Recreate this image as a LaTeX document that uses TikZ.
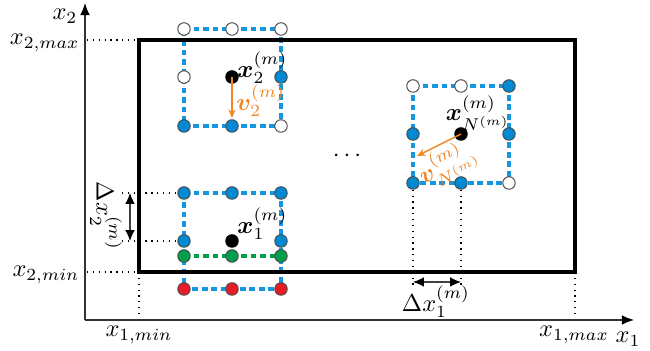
\documentclass[tikz,border=0pt]{standalone}
\usepackage{bm}
\usetikzlibrary{arrows.meta,backgrounds}

\definecolor{gridblue}{RGB}{22,150,222}
\definecolor{dotblue}{RGB}{0,138,212}
\definecolor{dotgreen}{RGB}{0,160,75}
\definecolor{dotred}{RGB}{232,28,36}
\definecolor{vorange}{RGB}{242,133,34}

\begin{document}
\begin{tikzpicture}[x=0.0144cm,y=-0.0144cm,
  gpt/.style={circle,inner sep=0pt,minimum size=0.18cm,draw=black!70,line width=0.4pt},
  wpt/.style={gpt,fill=white},
  bpt/.style={gpt,fill=dotblue},
  gnpt/.style={gpt,fill=dotgreen},
  rpt/.style={gpt,fill=dotred},
  kpt/.style={gpt,fill=black,draw=black},
  gridline/.style={gridblue,line width=1.4pt,dash pattern=on 2.4pt off 1.5pt},
  ghostline/.style={dotgreen,line width=1.4pt,dash pattern=on 2.4pt off 1.5pt},
  guide/.style={black,line width=0.45pt,dash pattern=on 0.5pt off 1.9pt},
  axis/.style={black!80,line width=0.5pt,-{Latex[length=5pt,width=4pt,color=black]}},
  span/.style={black!75,line width=0.5pt,{Latex[length=4.5pt,width=4pt,color=black]}-{Latex[length=4.5pt,width=4pt,color=black]}},
  vel/.style={vorange,line width=0.6pt,-{Stealth[length=3.5pt,width=3pt]}},
  lbl/.style={inner sep=0pt}]

\useasboundingbox (0,0) rectangle (650,351);

% axes
\coordinate (O) at (85,320);
\coordinate (X1end) at (634,320);
\coordinate (X2end) at (85,3);
\draw[axis] (O) -- (X1end);
\draw[axis] (O) -- (X2end);

% domain
\coordinate (Dsw) at (139,272);
\coordinate (Dnw) at (139,40);
\coordinate (Dse) at (575,272);
\coordinate (Dne) at (575,40);
\draw[line width=1.3pt] (Dsw) rectangle (Dne);

% projections of the domain onto the axes
\coordinate (A2max) at (87,40);
\coordinate (A2min) at (87,272);
\coordinate (A1min) at (139,318);
\coordinate (A1max) at (575,318);
\draw[guide] (A2max) -- (Dnw);
\draw[guide] (A2min) -- (Dsw);
\draw[guide] (Dsw) -- (A1min);
\draw[guide] (Dse) -- (A1max);

% axis labels
\node[lbl] (lx2) at (65,16) {$x_2$};
\node[lbl] (lx1) at (628,339) {$x_1$};
\node[lbl,anchor=east] (lx2max) at (80,43) {$x_{2,max}$};
\node[lbl,anchor=east] (lx2min) at (80,275) {$x_{2,min}$};
\node[lbl] (lx1min) at (139,335) {$x_{1,min}$};
\node[lbl] (lx1max) at (574,335) {$x_{1,max}$};

% particle 2 (top left)
\node[wpt] (a11) at (184,29) {};
\node[wpt] (a12) at (232,29) {};
\node[wpt] (a13) at (281,29) {};
\node[wpt] (a21) at (184,77) {};
\node[kpt] (a22) at (232,77) {};
\node[bpt] (a23) at (281,77) {};
\node[bpt] (a31) at (184,126) {};
\node[bpt] (a32) at (232,126) {};
\node[wpt] (a33) at (281,126) {};
\begin{scope}[on background layer]
  \draw[gridline] (a11.center) -- (a13.center) -- (a33.center) -- (a31.center) -- cycle;
\end{scope}
\coordinate (v2end) at (232,118);
\draw[vel] (a22.center) -- (v2end);
\node[lbl,anchor=west] (lxa) at (237,68) {$\bm{x}_2^{(m)}$};
\node[lbl,vorange,anchor=west] (lva) at (236,101) {$\bm{v}_2^{(m)}$};

% particle 1 (bottom left, near the boundary)
\node[bpt] (b11) at (184,193) {};
\node[bpt] (b12) at (232,193) {};
\node[bpt] (b13) at (281,193) {};
\node[bpt] (b21) at (184,241) {};
\node[kpt] (b22) at (232,241) {};
\node[bpt] (b23) at (281,241) {};
\node[gnpt] (g1) at (184,256) {};
\node[gnpt] (g2) at (232,256) {};
\node[gnpt] (g3) at (281,256) {};
\node[rpt] (r1) at (184,289) {};
\node[rpt] (r2) at (232,289) {};
\node[rpt] (r3) at (281,289) {};
\begin{scope}[on background layer]
  \draw[gridline] (b11.center) -- (b13.center) -- (r3.center) -- (r1.center) -- cycle;
  \draw[ghostline] (g1.center) -- (g3.center);
\end{scope}
\node[lbl,anchor=west] (lxb) at (237,224) {$\bm{x}_1^{(m)}$};

% grid spacing in x2
\coordinate (h2top) at (122,193);
\coordinate (h2bot) at (122,241);
\draw[guide] (h2top) -- (b11);
\draw[guide] (h2bot) -- (b21);
\coordinate (s2top) at (130,193);
\coordinate (s2bot) at (130,241);
\draw[span] (s2top) -- (s2bot);
\node[lbl,rotate=-90] (ldx2) at (106,216) {$\Delta x_2^{(m)}$};

% ellipsis between particles
\node[lbl] (dots) at (347,156) {$\cdots$};

% particle N (right)
\node[wpt] (c11) at (413,86) {};
\node[wpt] (c12) at (461,86) {};
\node[bpt] (c13) at (509,86) {};
\node[bpt] (c21) at (413,134) {};
\node[kpt] (c22) at (461,134) {};
\node[bpt] (c23) at (509,134) {};
\node[bpt] (c31) at (413,183) {};
\node[bpt] (c32) at (461,183) {};
\node[wpt] (c33) at (509,183) {};
\begin{scope}[on background layer]
  \draw[gridline] (c11.center) -- (c13.center) -- (c33.center) -- (c31.center) -- cycle;
\end{scope}
\coordinate (vNend) at (417,156);
\draw[vel] (c22.center) -- (vNend);
\node[lbl] (lxc) at (478,113) {$\bm{x}_{N^{(m)}}^{(m)}$};
\node[lbl,vorange,rotate=26] (lvc) at (448,164) {$\bm{v}_{N^{(m)}}^{(m)}$};

% grid spacing in x1
\coordinate (h1l) at (413,288);
\coordinate (h1r) at (461,288);
\draw[guide] (c31) -- (h1l);
\draw[guide] (c32) -- (h1r);
\coordinate (s1l) at (413,282);
\coordinate (s1r) at (461,282);
\draw[span] (s1l) -- (s1r);
\node[lbl] (ldx1) at (436,302) {$\Delta x_1^{(m)}$};

\end{tikzpicture}
\end{document}
